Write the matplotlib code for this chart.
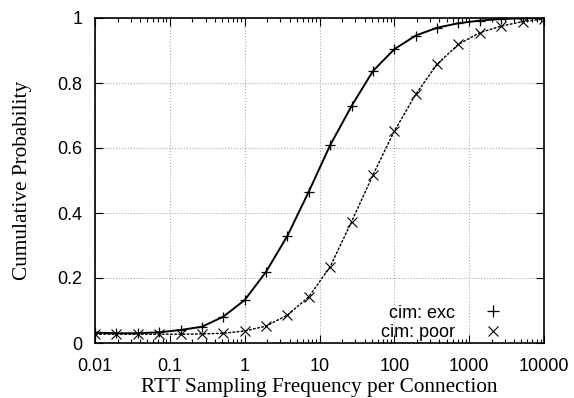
"""
    CDF of RTT sampling frequency per connection, exc vs poor.
"""

# ------ Environment Setup ------ #
import numpy as np
import matplotlib
matplotlib.use("Agg")
import matplotlib.pyplot as plt
from matplotlib.lines import Line2D
from matplotlib.ticker import LogLocator, FixedLocator, NullFormatter


# ------ Data ------ #
# sample positions (log spaced, read off the markers)
freq = [0.01, 0.0193, 0.0373, 0.0720, 0.139, 0.268, 0.518, 1.0, 1.93, 3.73, 7.20,
        13.9, 26.8, 51.8, 100, 193, 373, 720, 1390, 2680, 5180, 10000]

cdf_exc = [0.032, 0.030, 0.030, 0.033, 0.040, 0.050, 0.081, 0.132, 0.219, 0.330, 0.466,
           0.609, 0.729, 0.837, 0.904, 0.946, 0.970, 0.984, 0.992, 0.997, 0.999, 1.0]

cdf_poor = [0.027, 0.027, 0.027, 0.027, 0.027, 0.028, 0.030, 0.037, 0.052, 0.086, 0.142,
            0.235, 0.373, 0.517, 0.652, 0.765, 0.858, 0.919, 0.955, 0.975, 0.989, 0.997]

x_ticks = [0.01, 0.1, 1, 10, 100, 1000, 10000]
x_tick_labels = ["0.01", "0.1", "1", "10", "100", "1000", "10000"]
y_ticks = [0, 0.2, 0.4, 0.6, 0.8, 1]
y_tick_labels = ["0", "0.2", "0.4", "0.6", "0.8", "1"]


# ------ Plotting ------ #
fig = plt.figure(figsize=(5.74, 3.98), dpi=100)
ax = fig.add_axes([95 / 574, 1 - 343 / 398, 449 / 574, 325 / 398])

ax.plot(freq, cdf_exc, color="black", linestyle="-", linewidth=1.4,
        marker="+", markersize=7.5, markeredgewidth=0.9)
ax.plot(freq, cdf_poor, color="black", linestyle=(0, (2, 1)), linewidth=1.0,
        marker="x", markersize=6.5, markeredgewidth=0.8)

# axes
ax.set_xscale("log")
ax.set_xlim(0.01, 10000)
ax.set_ylim(0, 1)
ax.xaxis.set_major_locator(FixedLocator(x_ticks))
ax.set_xticklabels(x_tick_labels)
ax.xaxis.set_minor_locator(LogLocator(base=10, subs=np.arange(2, 10), numticks=20))
ax.xaxis.set_minor_formatter(NullFormatter())
ax.set_yticks(y_ticks)
ax.set_yticklabels(y_tick_labels)

ax.tick_params(which="both", direction="in", top=True, right=True, width=0.8)
ax.tick_params(which="major", length=6, labelsize=13)
ax.tick_params(axis="x", which="major", pad=11)
ax.tick_params(axis="y", which="major", pad=9)
ax.tick_params(which="minor", length=3)
for lbl in ax.get_xticklabels() + ax.get_yticklabels():
    lbl.set_family("Liberation Sans")

for sp in ax.spines.values():
    sp.set_linewidth(1.2)

ax.grid(True, which="major", color="#aaaaaa", linestyle=":", linewidth=0.8)

# labels
ax.set_xlabel("RTT Sampling Frequency per Connection", family="Liberation Serif",
              fontsize=15.3, labelpad=2)
ax.set_ylabel("Cumulative Probability", family="Liberation Serif",
              fontsize=15.3, labelpad=18)

# legend with marker-only keys
handles = [
    Line2D([], [], color="black", linestyle="none", marker="+",
           markersize=8, markeredgewidth=0.9),
    Line2D([], [], color="black", linestyle="none", marker="x",
           markersize=6.5, markeredgewidth=0.8),
]
leg = ax.legend(handles, ["cim: exc", "cim: poor"], loc="lower right",
                bbox_to_anchor=(0.926, 0.005), frameon=False, markerfirst=False,
                prop={"family": "Liberation Sans", "size": 13},
                handlelength=2.0, handletextpad=1.1, labelspacing=0.15,
                borderaxespad=0.0, borderpad=0.0)
for t in leg.get_texts():
    t.set_ha("right")

fig.savefig("out.png", dpi=100)
